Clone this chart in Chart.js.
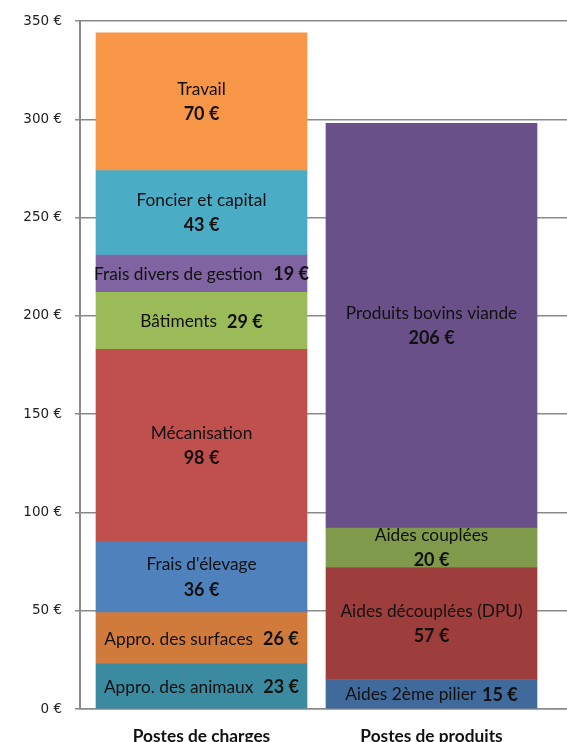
<!DOCTYPE html>
<html>
<head>
<meta charset="utf-8">
<script src="https://cdn.jsdelivr.net/npm/chart.js@4.4.1/dist/chart.umd.min.js"></script>
<style>
html,body{margin:0;padding:0;background:#fff;}
#wrap{width:567px;height:742px;position:relative;}
</style>
</head>
<body>
<div id="wrap"><canvas id="c" width="567" height="742"></canvas></div>
<script>
// ---- data ----
const categories = ['Postes de charges', 'Postes de produits'];
const chargeNames = ['Appro. des animaux', 'Appro. des surfaces', "Frais d'élevage", 'Mécanisation', 'Bâtiments', 'Frais divers de gestion', 'Foncier et capital', 'Travail'];
const chargeValues = [23, 26, 36, 98, 29, 19, 43, 70];
const produitNames = ['Aides 2ème pilier', 'Aides découplées (DPU)', 'Aides couplées', 'Produits bovins viande'];
const produitValues = [15, 57, 20, 206];
const yTickValues = [0, 50, 100, 150, 200, 250, 300, 350];

// ---- styles ----
const chargeColors = ['#3A8AA0', '#D07B3B', '#4F81BD', '#C0504D', '#9BBB59', '#8064A2', '#4BACC6', '#F79646'];
const produitColors = ['#40699C', '#9E3E3C', '#7E9A4A', '#6A5089'];
const inlineLabels = {'Appro. des animaux': 10, 'Appro. des surfaces': 10, 'Bâtiments': 10, 'Frais divers de gestion': 11, 'Aides 2ème pilier': 6};
const nameFont = '17.3px Lato';
const valueFont = 'bold 18px Lato';

const datasets = [];
chargeNames.forEach((n, i) => datasets.push({label: n, data: [{x: 0, y: chargeValues[i]}], backgroundColor: chargeColors[i]}));
produitNames.forEach((n, i) => datasets.push({label: n, data: [{x: 1, y: produitValues[i]}], backgroundColor: produitColors[i]}));

const labelPlugin = {
  id: 'segLabels',
  afterDatasetsDraw(chart) {
    const ctx = chart.ctx;
    ctx.save();
    ctx.fillStyle = '#111';
    ctx.textBaseline = 'middle';
    chart.data.datasets.forEach((ds, i) => {
      const el = chart.getDatasetMeta(i).data[0];
      if (!el) return;
      const cx = el.x;
      const cy = (el.y + el.base) / 2;
      const name = ds.label;
      const val = ds.data[0].y + ' €';
      if (name in inlineLabels) {
        const gap = inlineLabels[name];
        ctx.font = nameFont;
        const w1 = ctx.measureText(name).width;
        ctx.font = valueFont;
        const w2 = ctx.measureText(val).width;
        const x0 = cx - (w1 + gap + w2) / 2;
        ctx.textAlign = 'left';
        ctx.font = nameFont;
        ctx.fillText(name, x0, cy + 1);
        ctx.font = valueFont;
        ctx.fillText(val, x0 + w1 + gap, cy + 1);
      } else {
        ctx.textAlign = 'center';
        ctx.font = nameFont;
        ctx.fillText(name, cx, cy - 12.5);
        ctx.font = valueFont;
        ctx.fillText(val, cx, cy + 12.5);
      }
    });
    ctx.restore();
  }
};

new Chart(document.getElementById('c'), {
  type: 'bar',
  data: {datasets},
  plugins: [labelPlugin],
  options: {
    responsive: false,
    animation: false,
    events: [],
    layout: {padding: {top: 19.5, left: 0, right: 0, bottom: 0}},
    plugins: {legend: {display: false}, tooltip: {enabled: false}},
    datasets: {bar: {barThickness: 211, borderWidth: 0}},
    scales: {
      x: {
        type: 'linear',
        offset: false,
        stacked: true,
        min: -0.5283,
        max: 1.5891,
        grid: {display: false},
        border: {display: true, color: '#8a8a8a', width: 1.5},
        afterBuildTicks: (s) => { s.ticks = [{value: 0}, {value: 1}]; },
        afterFit: (s) => { s.height = 33; },
        ticks: {
          autoSkip: false, maxRotation: 0, padding: 9,
          color: '#111',
          font: {family: 'Lato', size: 17.3, weight: 'bold'},
          callback: (v) => categories[v]
        }
      },
      y: {
        stacked: true,
        min: 0,
        max: 350,
        afterBuildTicks: (s) => { s.ticks = yTickValues.map(v => ({value: v})); },
        afterFit: (s) => { s.width = 80; },
        grid: {color: '#8a8a8a', lineWidth: 1.5, tickLength: 5, drawTicks: true},
        border: {display: true, color: '#8a8a8a', width: 2},
        ticks: {
          padding: 13,
          color: '#222',
          font: {family: 'DejaVu Sans', size: 13.5},
          callback: (v) => v + ' €'
        }
      }
    }
  }
});
</script>
</body>
</html>
